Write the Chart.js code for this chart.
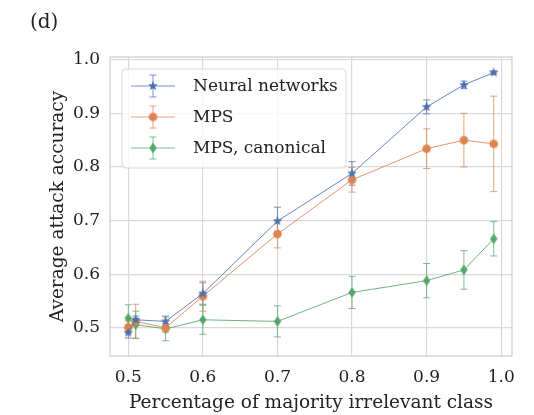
<!DOCTYPE html>
<html>
<head>
<meta charset="utf-8">
<script src="https://cdn.jsdelivr.net/npm/chart.js@4.4.0/dist/chart.umd.min.js"></script>
<style>
  html, body { margin: 0; padding: 0; background: #ffffff; }
  #wrap { width: 534px; height: 415px; }
</style>
</head>
<body>
<div id="wrap"><canvas id="chart" width="534" height="415"></canvas></div>
<script>
// --- Data ---
const xValues = [0.5, 0.51, 0.55, 0.6, 0.7, 0.8, 0.9, 0.95, 0.99];
const nnMean = [0.491, 0.515, 0.512, 0.564, 0.699, 0.788, 0.912, 0.953, 0.976];
const nnErr = [0.010, 0.007, 0.010, 0.020, 0.026, 0.022, 0.013, 0.007, 0.003];
const mpsMean = [0.501, 0.512, 0.500, 0.559, 0.675, 0.776, 0.834, 0.850, 0.843];
const mpsErr = [0.012, 0.032, 0.008, 0.028, 0.026, 0.023, 0.037, 0.050, 0.089];
const canMean = [0.518, 0.506, 0.498, 0.515, 0.512, 0.566, 0.588, 0.608, 0.666];
const canErr = [0.025, 0.025, 0.022, 0.027, 0.029, 0.030, 0.032, 0.036, 0.032];
const seriesNames = ['Neural networks', 'MPS', 'MPS, canonical'];
const xTicks = [0.5, 0.6, 0.7, 0.8, 0.9, 1.0];
const yTicks = [0.5, 0.6, 0.7, 0.8, 0.9, 1.0];

const BLUE = '#4c72b0', ORANGE = '#dd8452', GREEN = '#55a868';
const FONT = 'DejaVu Serif';

// --- custom marker images ---
function starMarker(color, r) {
    const c = document.createElement('canvas');
    c.width = c.height = Math.ceil(r * 2 + 2);
    const g = c.getContext('2d');
    const cx = c.width / 2, cy = c.height / 2;
    g.beginPath();
    for (let i = 0; i < 10; i++) {
        const rr = i % 2 === 0 ? r : r * 0.45;
        const a = -Math.PI / 2 + i * Math.PI / 5;
        g.lineTo(cx + rr * Math.cos(a), cy + rr * Math.sin(a));
    }
    g.closePath();
    g.fillStyle = color;
    g.fill();
    return c;
}
function thinDiamond(color, w, h) {
    const c = document.createElement('canvas');
    c.width = Math.ceil(w + 2); c.height = Math.ceil(h + 2);
    const g = c.getContext('2d');
    const cx = c.width / 2, cy = c.height / 2;
    g.beginPath();
    g.moveTo(cx, cy - h / 2);
    g.lineTo(cx + w / 2, cy);
    g.lineTo(cx, cy + h / 2);
    g.lineTo(cx - w / 2, cy);
    g.closePath();
    g.fillStyle = color;
    g.fill();
    return c;
}
function dotMarker(color, r) {
    const c = document.createElement('canvas');
    c.width = c.height = Math.ceil(r * 2 + 2);
    const g = c.getContext('2d');
    g.beginPath();
    g.arc(c.width / 2, c.height / 2, r, 0, Math.PI * 2);
    g.fillStyle = color;
    g.fill();
    return c;
}
const markers = [starMarker(BLUE, 5), dotMarker(ORANGE, 4.3), thinDiamond(GREEN, 7.5, 10.5)];

function toPoints(ys) {
    return xValues.map((x, i) => ({ x: x, y: ys[i] }));
}
const errs = [nnErr, mpsErr, canErr];
const colors = [BLUE, ORANGE, GREEN];

function alpha(hex, a) {
    const n = parseInt(hex.slice(1), 16);
    return `rgba(${n >> 16},${(n >> 8) & 255},${n & 255},${a})`;
}

// --- plugin: error bars, frame, legend, panel label ---
const extras = {
    id: 'extras',
    beforeDatasetsDraw(chart) {
        const ctx = chart.ctx;
        const xs = chart.scales.x, ys = chart.scales.y;
        const area = chart.chartArea;
        ctx.save();
        // frame around the axes
        ctx.strokeStyle = '#cccccc';
        ctx.lineWidth = 1.2;
        ctx.strokeRect(area.left, area.top, area.right - area.left, area.bottom - area.top);
        chart.data.datasets.forEach((ds, di) => {
            ctx.strokeStyle = alpha(colors[di], 0.75);
            ctx.lineWidth = 1;
            ds.data.forEach((p, i) => {
                const e = errs[di][i];
                const px = xs.getPixelForValue(p.x);
                const y1 = ys.getPixelForValue(p.y + e);
                const y2 = ys.getPixelForValue(p.y - e);
                ctx.beginPath();
                ctx.moveTo(px, y1); ctx.lineTo(px, y2);
                ctx.moveTo(px - 3.5, y1); ctx.lineTo(px + 3.5, y1);
                ctx.moveTo(px - 3.5, y2); ctx.lineTo(px + 3.5, y2);
                ctx.stroke();
            });
        });
        ctx.restore();
    },
    afterDraw(chart) {
        const ctx = chart.ctx;
        const area = chart.chartArea;
        ctx.save();
        // panel label
        ctx.fillStyle = '#222222';
        ctx.font = `20px "${FONT}"`;
        ctx.textBaseline = 'middle';
        ctx.textAlign = 'left';
        ctx.fillText('(d)', 30, 23);

        // legend box
        const bx = area.left + 12, by = area.top + 12, bw = 224, bh = 99;
        ctx.beginPath();
        ctx.roundRect(bx, by, bw, bh, 4);
        ctx.fillStyle = 'rgba(255,255,255,0.8)';
        ctx.fill();
        ctx.strokeStyle = '#d8d8d8';
        ctx.lineWidth = 1;
        ctx.stroke();

        ctx.font = `17px "${FONT}"`;
        seriesNames.forEach((name, i) => {
            const cy = by + 17 + i * 31;
            const x0 = bx + 9, x1 = bx + 53, xm = (x0 + x1) / 2;
            ctx.strokeStyle = alpha(colors[i], 0.75);
            ctx.lineWidth = 1;
            ctx.beginPath();
            ctx.moveTo(x0, cy); ctx.lineTo(x1, cy);
            ctx.moveTo(xm, cy - 11); ctx.lineTo(xm, cy + 11);
            ctx.moveTo(xm - 3.5, cy - 11); ctx.lineTo(xm + 3.5, cy - 11);
            ctx.moveTo(xm - 3.5, cy + 11); ctx.lineTo(xm + 3.5, cy + 11);
            ctx.stroke();
            const m = markers[i];
            ctx.drawImage(m, xm - m.width / 2, cy - m.height / 2);
            ctx.fillStyle = '#222222';
            ctx.fillText(name, bx + 71, cy + 1);
        });
        ctx.restore();
    }
};

const datasets = [nnMean, mpsMean, canMean].map((ys, i) => ({
    label: seriesNames[i],
    data: toPoints(ys),
    showLine: true,
    borderColor: alpha(colors[i], 0.85),
    borderWidth: 1,
    backgroundColor: colors[i],
    pointStyle: markers[i],
    pointRadius: 4,
    pointHoverRadius: 4
}));

new Chart(document.getElementById('chart'), {
    type: 'scatter',
    data: { datasets: datasets },
    options: {
        responsive: false,
        animation: false,
        events: [],
        layout: { padding: { left: 0, right: 22, top: 57, bottom: 0 } },
        plugins: { legend: { display: false }, tooltip: { enabled: false } },
        scales: {
            x: {
                type: 'linear',
                min: 0.4755,
                max: 1.0145,
                afterBuildTicks: s => { s.ticks = xTicks.map(v => ({ value: v })); },
                afterFit: s => { s.height = 59; },
                grid: { color: '#d9d9d9', lineWidth: 1.2, drawTicks: false },
                border: { display: false },
                ticks: {
                    padding: 11,
                    color: '#222222',
                    font: { family: FONT, size: 17 },
                    callback: v => v.toFixed(1)
                },
                title: {
                    display: true,
                    text: 'Percentage of majority irrelevant class',
                    color: '#222222',
                    font: { family: FONT, size: 18.5 },
                    padding: { top: 0, bottom: 1 }
                }
            },
            y: {
                type: 'linear',
                min: 0.4475,
                max: 1.005,
                afterBuildTicks: s => { s.ticks = yTicks.map(v => ({ value: v })); },
                afterFit: s => { s.width = 110; },
                grid: { color: '#d9d9d9', lineWidth: 1.2, drawTicks: false },
                border: { display: false },
                ticks: {
                    padding: 10,
                    color: '#222222',
                    font: { family: FONT, size: 17 },
                    callback: v => v.toFixed(1)
                },
                title: {
                    display: true,
                    text: 'Average attack accuracy',
                    color: '#222222',
                    font: { family: FONT, size: 18.5 },
                    padding: { top: 47, bottom: 0 }
                }
            }
        }
    },
    plugins: [extras]
});
</script>
</body>
</html>
